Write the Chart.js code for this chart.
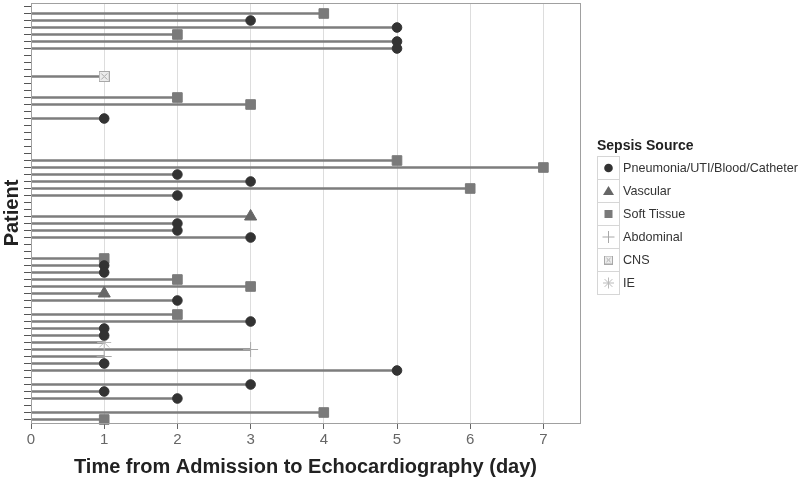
<!DOCTYPE html>
<html>
<head>
<meta charset="utf-8">
<script src="https://cdn.jsdelivr.net/npm/chart.js@4.4.1/dist/chart.umd.min.js"></script>
<style>
  body { margin: 0; background: #fff; font-family: "Liberation Sans", Arial, sans-serif; overflow: hidden; }
  #wrap { position: relative; width: 800px; height: 480px; }
  #legend { position: absolute; left: 597px; top: 137px; color: #333; white-space: nowrap; }
  #legend .title { font-weight: bold; font-size: 14px; color: #222; margin-bottom: 3px; }
  #legend table { border-collapse: collapse; }
  #legend td.icon { width: 21px; height: 22px; border: 1px solid #d6d6d6; padding: 0; }
  #legend td.icon canvas { display: block; }
  #legend td.txt { font-size: 12.6px; padding: 0 0 0 3px; }
</style>
</head>
<body>
<div id="wrap">
  <canvas id="chart" width="800" height="480"></canvas>
  <div id="legend"></div>
</div>
<script>
// one row per patient, top to bottom
const patients = ['P01','P02','P03','P04','P05','P06','P07','P08','P09','P10',
  'P11','P12','P13','P14','P15','P16','P17','P18','P19','P20',
  'P21','P22','P23','P24','P25','P26','P27','P28','P29','P30',
  'P31','P32','P33','P34','P35','P36','P37','P38','P39','P40',
  'P41','P42','P43','P44','P45','P46','P47','P48','P49','P50',
  'P51','P52','P53','P54','P55','P56','P57','P58','P59','P60'];

// days from admission to echo (null = no line drawn)
const days = [null, 4, 3, 5, 2, 5, 5, null, null, null,
  1, null, null, 2, 3, null, 1, null, null, null,
  null, null, 5, 7, 2, 3, 6, 2, null, null,
  3, 2, 2, 3, null, null, 1, 1, 1, 2,
  3, 1, 2, null, 2, 3, 1, 1, 1, 3,
  1, 1, 5, null, 3, 1, 2, null, 4, 1];

// sepsis source per patient
const sources = ['', 'S', 'P', 'P', 'S', 'P', 'P', '', '', '',
  'C', '', '', 'S', 'S', '', 'P', '', '', '',
  '', '', 'S', 'S', 'P', 'P', 'S', 'P', '', '',
  'V', 'P', 'P', 'P', '', '', 'S', 'P', 'P', 'S',
  'S', 'V', 'P', '', 'S', 'P', 'P', 'P', 'I', 'A',
  'A', 'P', 'P', '', 'P', 'P', 'P', '', 'S', 'S'];

const sourceKeys = ['P', 'V', 'S', 'A', 'C', 'I'];
const sourceNames = ['Pneumonia/UTI/Blood/Catheter', 'Vascular', 'Soft Tissue', 'Abdominal', 'CNS', 'IE'];

const xTicks = [0, 1, 2, 3, 4, 5, 6, 7];

// CNS marker: light box with an x in it
function boxX(size) {
  const c = document.createElement('canvas');
  c.width = size; c.height = size;
  const g = c.getContext('2d');
  g.fillStyle = '#ececec';
  g.fillRect(0.5, 0.5, size - 1, size - 1);
  g.strokeStyle = '#a8a8a8';
  g.lineWidth = 1;
  g.strokeRect(0.5, 0.5, size - 1, size - 1);
  g.beginPath();
  g.moveTo(2.5, 2.5); g.lineTo(size - 2.5, size - 2.5);
  g.moveTo(size - 2.5, 2.5); g.lineTo(2.5, size - 2.5);
  g.stroke();
  return c;
}

const markerStyle = {
  P: { pointStyle: 'circle', radius: 4.8, fill: '#333333', stroke: '#333333', width: 1 },
  V: { pointStyle: 'triangle', radius: 7, fill: '#666666', stroke: '#666666', width: 1 },
  S: { pointStyle: 'rect', radius: 6.8, fill: '#7a7a7a', stroke: '#7a7a7a', width: 1 },
  A: { pointStyle: 'cross', radius: 7.5, fill: '#a8a8a8', stroke: '#a8a8a8', width: 1 },
  C: { pointStyle: boxX(11), radius: 6, fill: '#aaa', stroke: '#aaa', width: 1 },
  I: { pointStyle: 'star', radius: 7, fill: '#bbbbbb', stroke: '#bbbbbb', width: 1 }
};

const markerSets = sourceKeys.map((key, k) => {
  const pts = [];
  for (let i = 0; i < patients.length; i++) {
    if (sources[i] === key) pts.push({ x: days[i], y: patients[i] });
  }
  const st = markerStyle[key];
  return {
    type: 'scatter',
    label: sourceNames[k],
    data: pts,
    pointStyle: st.pointStyle,
    pointRadius: st.radius,
    pointBackgroundColor: st.fill,
    pointBorderColor: st.stroke,
    pointBorderWidth: st.width,
    order: 1
  };
});

const frame = {
  id: 'frame',
  afterDraw(chart) {
    const a = chart.chartArea, ctx = chart.ctx;
    ctx.save();
    ctx.strokeStyle = '#a0a0a0';
    ctx.lineWidth = 1;
    ctx.strokeRect(Math.round(a.left) + 0.5, Math.round(a.top) + 0.5,
      Math.round(a.right - a.left), Math.round(a.bottom - a.top));
    ctx.restore();
  }
};

new Chart(document.getElementById('chart'), {
  type: 'bar',
  data: {
    labels: patients,
    datasets: [{
      label: 'days',
      data: days,
      backgroundColor: '#7d7d7d',
      barThickness: 2,
      order: 10
    }].concat(markerSets)
  },
  options: {
    indexAxis: 'y',
    responsive: false,
    animation: false,
    layout: { autoPadding: false, padding: { top: 3, right: 220, bottom: 0, left: 0 } },
    plugins: { legend: { display: false }, tooltip: { enabled: false } },
    scales: {
      x: {
        type: 'linear',
        min: 0,
        max: 7.5,
        afterBuildTicks: s => { s.ticks = xTicks.map(v => ({ value: v })); },
        afterFit: s => { s.height = 57; },
        grid: { color: '#dddddd', tickColor: '#666', tickLength: 6 },
        border: { color: '#888' },
        ticks: { color: '#666', font: { size: 15, family: 'Liberation Sans' }, padding: 2 },
        title: {
          display: true,
          text: 'Time from Admission to Echocardiography (day)',
          color: '#222',
          font: { size: 20, weight: 'bold', family: 'Liberation Sans' },
          padding: { top: 0, bottom: 1 }
        }
      },
      y: {
        type: 'category',
        offset: true,
        afterFit: s => { s.width = 31; },
        grid: { drawOnChartArea: false, offset: false, tickLength: 7, tickColor: '#555' },
        border: { color: '#888' },
        ticks: { callback: () => '', padding: 0, autoSkip: false, font: { size: 1 } },
        title: {
          display: true,
          text: 'Patient',
          color: '#222',
          font: { size: 20, weight: 'bold', family: 'Liberation Sans' },
          padding: { top: 0, bottom: 0 }
        }
      }
    }
  },
  plugins: [frame]
});

// legend
function drawIcon(g, key) {
  const cx = 10.5, cy = 11;
  g.fillStyle = markerStyle[key].fill;
  g.strokeStyle = markerStyle[key].stroke;
  g.lineWidth = 1;
  g.beginPath();
  if (key === 'P') {
    g.arc(cx, cy, 4.3, 0, Math.PI * 2); g.fill();
  } else if (key === 'V') {
    g.moveTo(cx, cy - 5); g.lineTo(cx + 5.5, cy + 4); g.lineTo(cx - 5.5, cy + 4); g.closePath(); g.fill();
  } else if (key === 'S') {
    g.fillRect(cx - 4, cy - 4, 8, 8);
  } else if (key === 'A') {
    g.moveTo(cx - 6, cy); g.lineTo(cx + 6, cy); g.moveTo(cx, cy - 6); g.lineTo(cx, cy + 6); g.stroke();
  } else if (key === 'C') {
    g.drawImage(boxX(9), cx - 4.5, cy - 4.5);
  } else if (key === 'I') {
    for (let a = 0; a < 4; a++) {
      const t = a * Math.PI / 4;
      g.moveTo(cx - 5.5 * Math.cos(t), cy - 5.5 * Math.sin(t));
      g.lineTo(cx + 5.5 * Math.cos(t), cy + 5.5 * Math.sin(t));
    }
    g.stroke();
  }
}

const legend = document.getElementById('legend');
const title = document.createElement('div');
title.className = 'title';
title.textContent = 'Sepsis Source';
legend.appendChild(title);
const table = document.createElement('table');
sourceKeys.forEach((key, k) => {
  const tr = document.createElement('tr');
  const td1 = document.createElement('td');
  td1.className = 'icon';
  const c = document.createElement('canvas');
  c.width = 21; c.height = 22;
  drawIcon(c.getContext('2d'), key);
  td1.appendChild(c);
  const td2 = document.createElement('td');
  td2.className = 'txt';
  td2.textContent = sourceNames[k];
  tr.appendChild(td1); tr.appendChild(td2);
  table.appendChild(tr);
});
legend.appendChild(table);
</script>
</body>
</html>
